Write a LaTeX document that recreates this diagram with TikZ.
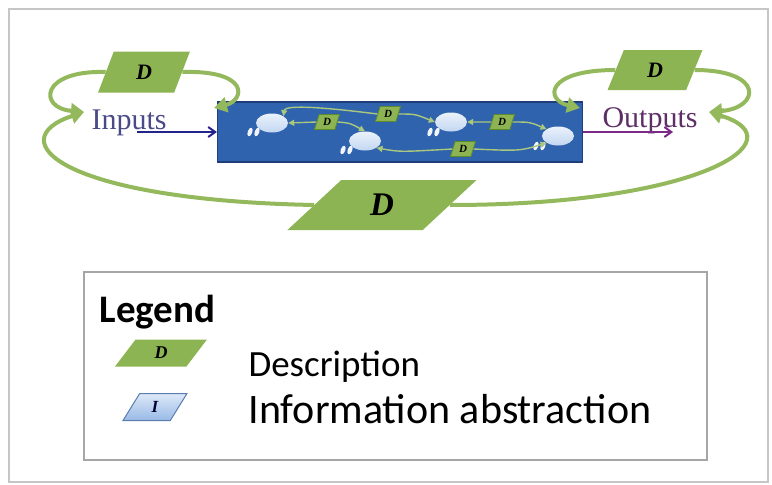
\documentclass[tikz,border=0pt]{standalone}
\usepackage{fontspec}
\setmainfont{Liberation Serif}
\setsansfont{Carlito}
\usetikzlibrary{arrows.meta,positioning,shapes.geometric}
\definecolor{descgreen}{HTML}{8DB452}
\definecolor{loopgreen}{HTML}{93B95C}
\definecolor{tagedge}{HTML}{5E8A2A}
\definecolor{procblue}{HTML}{3063AE}
\definecolor{procedge}{HTML}{1E3D7A}
\definecolor{cloudblue}{HTML}{C3D7F2}
\definecolor{inputnavy}{HTML}{23238C}
\definecolor{inputtext}{HTML}{4A4A88}
\definecolor{outputpurple}{HTML}{7B2A88}
\definecolor{outputtext}{HTML}{5E2E66}
\definecolor{abstop}{HTML}{DDE9F8}
\definecolor{absbottom}{HTML}{98B9E6}
\definecolor{absedge}{HTML}{5B7DAF}
\tikzset{
  descbox/.style={trapezium,trapezium stretches=true,fill=descgreen,inner sep=0pt,
    font=\bfseries\itshape},
  tagbox/.style={descbox,trapezium left angle=72,trapezium right angle=108,
    draw=tagedge,line width=0.8pt,minimum width=25pt,minimum height=15pt,
    font=\bfseries\itshape\fontsize{11}{11}\selectfont},
  flowcloud/.style={ellipse,minimum width=32pt,minimum height=19pt,inner sep=0pt,
    top color=cloudblue!35!white,bottom color=cloudblue},
  loopline/.style={draw=loopgreen,line width=4pt,-{Triangle[length=13pt,width=15pt]}},
  tagarrow/.style={draw=loopgreen!80!white,line width=1.4pt,-{Triangle[length=6pt,width=6pt]}},
  legendtext/.style={anchor=base west,font=\sffamily\fontsize{37}{37}\selectfont}
}

\begin{document}
\begin{tikzpicture}[x=1pt,y=-1pt,
  procbox/.style={draw=procedge,fill=procblue,line width=1.2pt,inner sep=0pt,
    minimum width=365pt,minimum height=60pt},
  ioarrow/.style={line width=1.6pt,-{Straight Barb[length=7pt,width=10pt,line width=2pt]}}
]
  \useasboundingbox (0,0) rectangle (772,485);
  \draw[gray!45,line width=1.5pt] (9,9) rectangle (768,482);

  \node[procbox] (process) at (400,132) {};
  \node[flowcloud] (flowa) at (272,123) {};
  \node[flowcloud] (flowb) at (365,141) {};
  \node[flowcloud] (flowc) at (451,122) {};
  \node[flowcloud] (flowd) at (558,136) {};
  \foreach \x/\y in {250/132,343/150,430/132,536/146}{
    \fill[white!75!cloudblue,rotate around={-20:(\x,\y)}] (\x,\y) ellipse (2.3 and 4.5);
    \fill[white!75!cloudblue,rotate around={-20:(\x+7,\y)}] (\x+7,\y) ellipse (2.3 and 4.5);
  }
  \node[tagbox] (tagab) at (327,122) {D};
  \node[tagbox] (tagac) at (388,114) {D};
  \node[tagbox] (tagcd) at (502,122) {D};
  \node[tagbox] (tagbd) at (463,149) {D};
  \draw[tagarrow] (tagab.west) -- (flowa.east);
  \draw[tagarrow] (tagab.east) .. controls (350,123) .. (flowb.north);
  \draw[tagarrow] (tagac.west) .. controls (330,108) and (285,104) .. (flowa.north east);
  \draw[tagarrow] (tagac.east) .. controls (415,114) .. (flowc.west);
  \draw[tagarrow] (tagcd.west) -- (flowc.east);
  \draw[tagarrow] (tagcd.east) .. controls (530,122) .. (flowd.north west);
  \draw[tagarrow] (tagbd.west) .. controls (400,152) .. (flowb.south east);
  \draw[tagarrow] (tagbd.east) .. controls (520,151) .. (flowd.south west);

  \node[anchor=base west,text=inputtext,font=\fontsize{30}{30}\selectfont]
    (inputs) at (88,129) {Inputs};
  \node[anchor=base west,text=outputtext,font=\fontsize{30}{30}\selectfont]
    (outputs) at (599,127) {Outputs};
  \draw[ioarrow,inputnavy] ([shift={(-33,3)}]inputs.base east) -- (process.west);
  \draw[ioarrow,outputpurple] (process.east) -- ([shift={(-28,5)}]outputs.base east);

  \node[descbox,trapezium left angle=74,trapezium right angle=106,minimum width=92pt,
    minimum height=41pt,font=\bfseries\itshape\fontsize{22}{22}\selectfont]
    (descin) at (144,72) {D};
  \node[descbox,trapezium left angle=74,trapezium right angle=106,minimum width=95pt,
    minimum height=40pt,font=\bfseries\itshape\fontsize{22}{22}\selectfont]
    (descout) at (655,70) {D};
  \node[descbox,trapezium left angle=54,trapezium right angle=126,minimum width=190pt,
    minimum height=50pt,font=\bfseries\itshape\fontsize{33}{33}\selectfont]
    (descall) at (382,205) {D};

  \coordinate (inhook) at (84,112);
  \coordinate (outhook) at (709,112);
  \coordinate (procin) at (214,108);
  \coordinate (procout) at (580,108);
  \draw[loopline] (descin.west) .. controls (40,70) and (38,108) .. (inhook);
  \draw[loopline] (descin.east) .. controls (250,70) and (245,100) .. (procin);
  \draw[loopline] (descout.west) .. controls (545,70) and (545,100) .. (procout);
  \draw[loopline] (descout.east) .. controls (765,70) and (760,108) .. (outhook);
  \draw[loopline] (descall.west) .. controls (60,200) and (0,140) .. (inhook);
  \draw[loopline] (descall.east) .. controls (700,205) and (800,140) .. (outhook);

  \node[draw=gray!70,line width=1.6pt,minimum width=623pt,minimum height=188pt]
    (legend) at (395.5,366) {};
  \node[anchor=base west,font=\sffamily\bfseries\fontsize{39}{39}\selectfont]
    (legendtitle) at (96,322) {Legend};
  \node[descbox,trapezium left angle=66,trapezium right angle=114,minimum width=92pt,
    minimum height=27pt,font=\bfseries\itshape\fontsize{18}{18}\selectfont]
    (legdesc) at (161,353) {D};
  \node[descbox,trapezium left angle=72,trapezium right angle=108,minimum width=64pt,
    minimum height=27pt,draw=absedge,line width=1pt,top color=abstop,
    bottom color=absbottom,text=black!80!blue,
    font=\bfseries\itshape\fontsize{17}{17}\selectfont]
    (leginfo) at (155,407) {I};
  \node[legendtext] (legdesctext) at (245,376) {Description};
  \node[legendtext,font=\sffamily\fontsize{42}{42}\selectfont]
    (leginfotext) at (245,423) {Information abstraction};
\end{tikzpicture}
\end{document}
